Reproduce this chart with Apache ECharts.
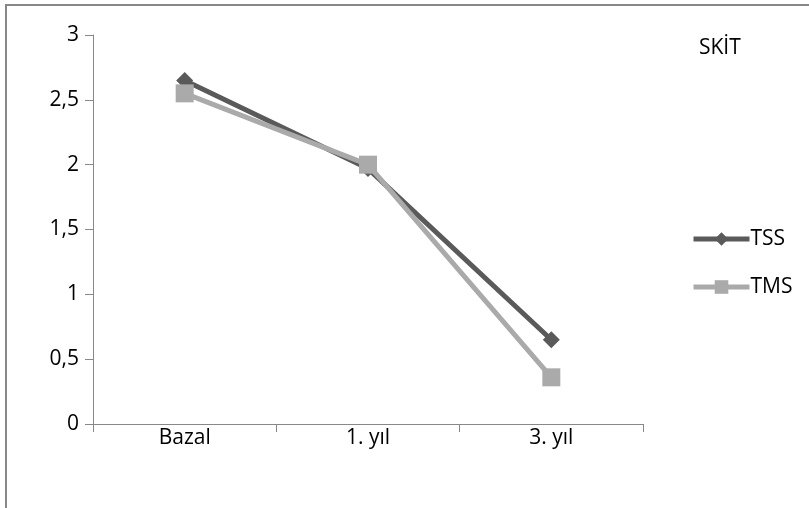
<!DOCTYPE html>
<html>
<head>
<meta charset="utf-8">
<style>
  html, body { margin: 0; padding: 0; background: #fff; }
  #chart { width: 809px; height: 508px; }
</style>
<script src="https://cdn.jsdelivr.net/npm/echarts@6/dist/echarts.min.js"></script>
</head>
<body>
<div id="chart"></div>
<script>
// Periods of measurement
const categories = ['Bazal', '1. yıl', '3. yıl'];
// Mean scores per group
const tssValues = [2.65, 1.97, 0.65];
const tmsValues = [2.55, 2.0, 0.36];
// Y axis range
const yMin = 0, yMax = 3, yStep = 0.5;

const font = '"Open Sans", "Liberation Sans", sans-serif';
const chart = echarts.init(document.getElementById('chart'), null, { renderer: 'canvas' });

chart.setOption({
  backgroundColor: '#fff',
  animation: false,
  title: {
    text: 'SKİT',
    left: 694, top: 33,
    textStyle: { fontFamily: font, fontSize: 21, fontWeight: 'normal', color: '#000' }
  },
  graphic: [{
    type: 'rect',
    shape: { x: 6, y: 5, width: 900, height: 600 },
    style: { fill: 'none', stroke: '#888', lineWidth: 2 },
    silent: true
  }],
  legend: {
    orient: 'vertical',
    left: 686, top: 222,
    itemWidth: 56, itemHeight: 17,
    itemGap: 24,
    lineStyle: { width: 5 },
    textStyle: { fontFamily: font, fontSize: 21, lineHeight: 24, color: '#000', padding: [0, 0, 0, -4] },
    data: ['TSS', 'TMS']
  },
  grid: { left: 93, top: 35, width: 550, height: 389, containLabel: false },
  xAxis: {
    type: 'category',
    data: categories,
    boundaryGap: true,
    axisLine: { lineStyle: { color: '#888', width: 1 } },
    axisTick: { show: true, length: 8, lineStyle: { color: '#888' }, alignWithLabel: false },
    axisLabel: { fontFamily: font, fontSize: 21, color: '#000', margin: 4 }
  },
  yAxis: {
    type: 'value',
    min: yMin, max: yMax, interval: yStep,
    splitLine: { show: false },
    axisLine: { show: true, lineStyle: { color: '#888', width: 1 } },
    axisTick: { show: true, length: 8, inside: false, lineStyle: { color: '#888' } },
    axisLabel: {
      fontFamily: font, fontSize: 21, color: '#000', margin: 14,
      formatter: v => String(v).replace('.', ',')
    }
  },
  series: [
    {
      name: 'TSS', type: 'line', data: tssValues,
      symbol: 'diamond', symbolSize: 17,
      lineStyle: { color: '#5a5a5a', width: 5 },
      itemStyle: { color: '#5a5a5a' },
      z: 2
    },
    {
      name: 'TMS', type: 'line', data: tmsValues,
      symbol: 'rect', symbolSize: 18,
      lineStyle: { color: '#aaaaaa', width: 5 },
      itemStyle: { color: '#aaaaaa' },
      z: 3
    }
  ]
});
</script>
</body>
</html>
